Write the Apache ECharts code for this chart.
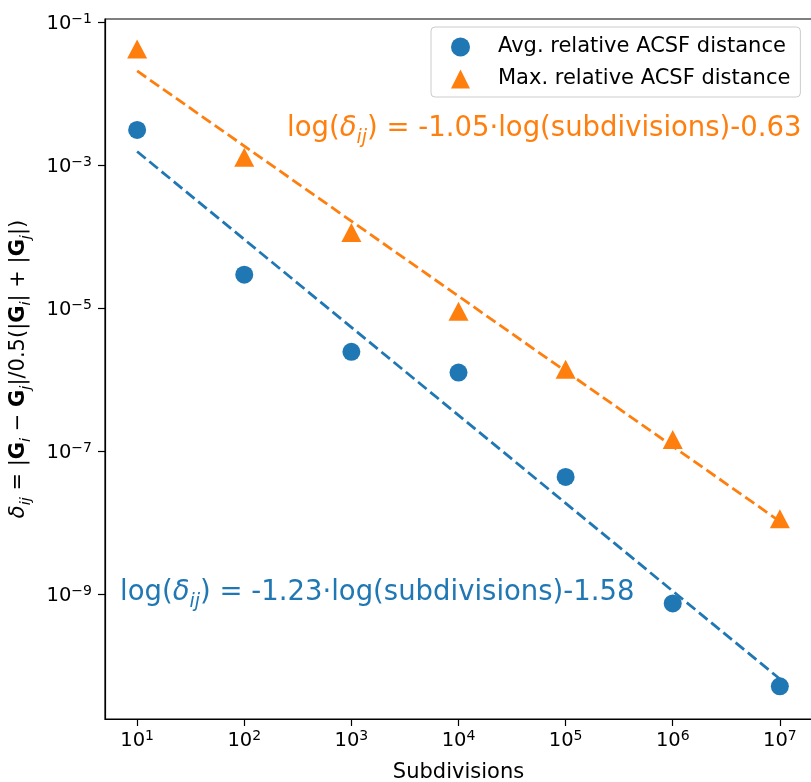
<!DOCTYPE html>
<html>
<head>
<meta charset="utf-8">
<script src="https://cdn.jsdelivr.net/npm/echarts@6.0.0/dist/echarts.min.js"></script>
<style>
html,body{margin:0;padding:0;background:#fff;}
#main{width:811px;height:782px;}
</style>
</head>
<body>
<div id="main"></div>
<script>
// ---- data ----
const subdivisions = [1e1, 1e2, 1e3, 1e4, 1e5, 1e6, 1e7];
const avgDistance = [3.1e-3, 2.95e-5, 2.46e-6, 1.26e-6, 4.4e-8, 7.5e-10, 5.2e-11];
const maxDistance = [4.18e-2, 1.29e-3, 1.14e-4, 9.08e-6, 1.41e-6, 1.46e-7, 1.14e-8];
const fitX = [1e1, 1e7];
const avgFit = [1.55e-3, 6.6e-11];
const maxFit = [2.07e-2, 1.05e-8];
const xTickExponents = [1, 2, 3, 4, 5, 6, 7];
const yTickExponents = [-1, -3, -5, -7, -9];
const avgName = 'Avg. relative ACSF distance';
const maxName = 'Max. relative ACSF distance';
const avgFitText = ') = -1.23·log(subdivisions)-1.58';
const maxFitText = ') = -1.05·log(subdivisions)-0.63';

const BLUE = '#1f77b4', ORANGE = '#ff7f0e';
const FONT = 'DejaVu Sans';
const lg = Math.log10;
const pts = (xs, ys) => xs.map((x, i) => [lg(x), lg(ys[i])]);

function powLabel(v) {
  const e = Math.round(v);
  return '{a|10}{s|' + (e < 0 ? '\u2212' : '') + Math.abs(e) + '}';
}
const tickRich = {
  a: {fontFamily: FONT, fontSize: 19.5, lineHeight: 20, padding: [3.5, 0, 0, 0], color: '#000'},
  s: {fontFamily: FONT, fontSize: 14, lineHeight: 15, verticalAlign: 'top', color: '#000'}
};

function fitRich(c) {
  return {
    n: {fontFamily: FONT, fontSize: 27.5, lineHeight: 32, verticalAlign: 'top', fill: c, color: c},
    it: {fontFamily: FONT, fontSize: 27.5, fontStyle: 'italic', lineHeight: 32, verticalAlign: 'top', fill: c, color: c},
    sub: {fontFamily: FONT, fontSize: 19, fontStyle: 'italic', lineHeight: 21, padding: [14, 0, 0, 0], verticalAlign: 'top', fill: c, color: c}
  };
}

const chart = echarts.init(document.getElementById('main'), null, {renderer: 'canvas'});
chart.setOption({
  animation: false,
  backgroundColor: '#fff',
  grid: {left: 105, top: 19, width: 707, height: 700, show: true, borderColor: '#000', borderWidth: 1.2,
         backgroundColor: 'transparent', containLabel: false, outerBoundsMode: 'none'},
  xAxis: {
    type: 'value', min: 0.7, max: 7.3,
    axisLine: {show: true, onZero: false, lineStyle: {color: '#000', width: 1.2}},
    axisTick: {show: true, length: 7, lineStyle: {color: '#000', width: 1.2}, customValues: xTickExponents},
    axisLabel: {customValues: xTickExponents, formatter: powLabel, rich: tickRich, margin: 10},
    splitLine: {show: false},
    name: 'Subdivisions', nameLocation: 'middle', nameGap: 42,
    nameTextStyle: {fontFamily: FONT, fontSize: 21, lineHeight: 24, color: '#000'}
  },
  yAxis: {
    type: 'value', min: -10.74, max: -0.958,
    axisLine: {show: true, onZero: false, lineStyle: {color: '#000', width: 1.2}},
    axisTick: {show: true, length: 7, lineStyle: {color: '#000', width: 1.2}, customValues: yTickExponents},
    axisLabel: {customValues: yTickExponents, formatter: powLabel, rich: tickRich, margin: 13},
    splitLine: {show: false},
    name: '{it|δ}{sub|ij}{n| = |}{b|G}{sub|i}{n| \u2212 }{b|G}{sub|j}{n||/0.5(|}{b|G}{sub|i}{n|| + |}{b|G}{sub|j}{n||)}',
    nameLocation: 'middle', nameGap: 73, nameRotate: 90,
    nameTextStyle: {
      fontFamily: FONT, fontSize: 21, color: '#000',
      rich: {
        n: {fontFamily: FONT, fontSize: 21, lineHeight: 24, verticalAlign: 'top', color: '#000'},
        it: {fontFamily: FONT, fontSize: 21, fontStyle: 'italic', lineHeight: 24, verticalAlign: 'top', color: '#000'},
        b: {fontFamily: FONT, fontSize: 21, fontWeight: 'bold', lineHeight: 24, verticalAlign: 'top', color: '#000'},
        sub: {fontFamily: FONT, fontSize: 14.7, fontStyle: 'italic', lineHeight: 16, padding: [11, 0, 0, 0], verticalAlign: 'top', color: '#000'}
      }
    }
  },
  legend: {
    orient: 'vertical', left: 431, top: 27,
    padding: [8, 10, 6, 20], itemGap: 8, itemWidth: 19, itemHeight: 19,
    backgroundColor: 'rgba(255,255,255,0.8)', borderColor: '#cccccc', borderWidth: 1, borderRadius: 4,
    textStyle: {fontFamily: FONT, fontSize: 21, color: '#000', lineHeight: 24, padding: [0, 0, 0, 23]},
    data: [{name: avgName, icon: 'circle'}, {name: maxName, icon: 'triangle'}],
    selectedMode: false
  },
  graphic: [
    {type: 'text', left: 287, top: 115, z: 10, style: {
      text: '{n|log(}{it|δ}{sub|ij}{n|' + maxFitText + '}', rich: fitRich(ORANGE)
    }},
    {type: 'text', left: 120, top: 579, z: 10, style: {
      text: '{n|log(}{it|δ}{sub|ij}{n|' + avgFitText + '}', rich: fitRich(BLUE)
    }}
  ],
  series: [
    {name: avgName, type: 'scatter', data: pts(subdivisions, avgDistance), symbol: 'circle', symbolSize: 18,
     itemStyle: {color: BLUE, opacity: 1}, z: 3},
    {name: maxName, type: 'scatter', data: pts(subdivisions, maxDistance), symbol: 'triangle', symbolSize: [20, 19],
     itemStyle: {color: ORANGE, opacity: 1}, z: 3},
    {name: 'avgFit', type: 'line', data: pts(fitX, avgFit), showSymbol: false, symbol: 'none',
     lineStyle: {color: BLUE, width: 2.8, type: [11, 4.8]}, z: 4, silent: true},
    {name: 'maxFit', type: 'line', data: pts(fitX, maxFit), showSymbol: false, symbol: 'none',
     lineStyle: {color: ORANGE, width: 2.8, type: [11, 4.8]}, z: 4, silent: true}
  ]
});
</script>
</body>
</html>
